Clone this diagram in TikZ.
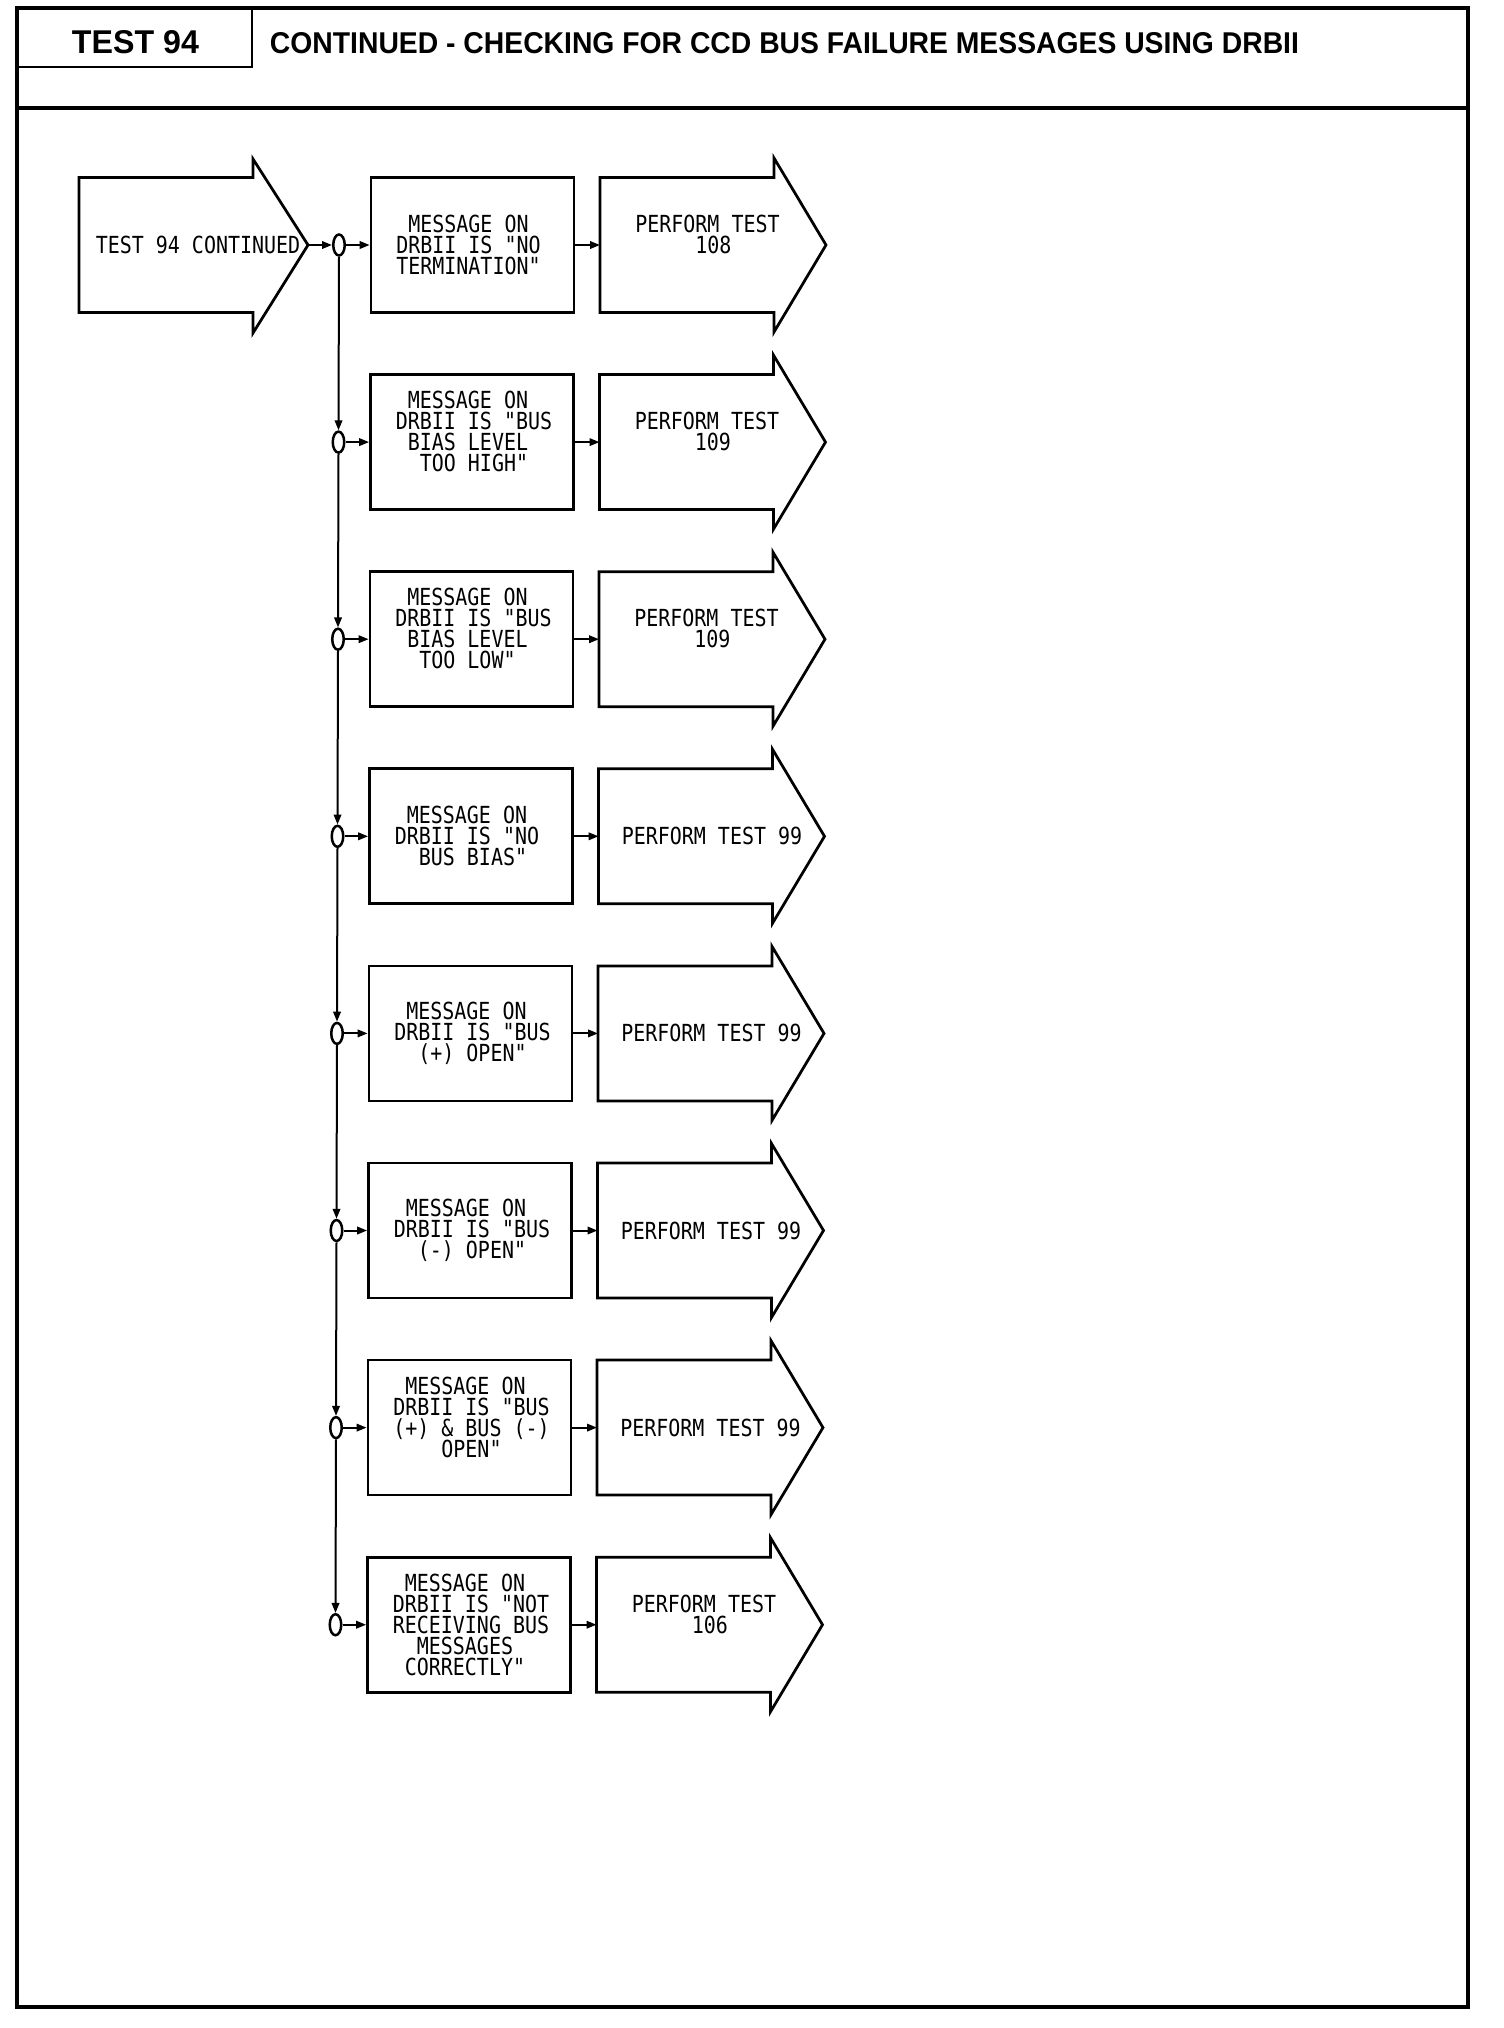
\documentclass[tikz,border=0pt]{standalone}
\usepackage{fontspec}
\usepackage{graphicx}
\usetikzlibrary{shapes.geometric,arrows.meta}
\setmainfont{Liberation Sans}
\newfontfamily\plotfont{DejaVu Sans Mono}[FakeStretch=0.85]
\newcommand\ph[1]{\hphantom{#1}}
\tikzset{
  frameline/.style={line width=1.6pt},
  boxline/.style={line width=1.1pt},
  conn/.style={line width=0.8pt},
  tip/.style={-{Triangle[length=4pt,width=3pt]}},
  msgbox/.style={draw,boxline,rectangle,minimum width=81.2pt,minimum height=54pt,inner sep=0pt},
  oval/.style={draw,line width=1pt,ellipse,minimum width=4.6pt,minimum height=8.4pt,inner sep=0pt},
  ptext/.style={font=\plotfont\fontsize{9.4}{8.36}\selectfont,align=left,inner sep=0pt,anchor=west},
}
% #1 index, #2 message lines, #3 message yshift, #4 perform lines, #5 perform yshift
\newcommand\flrow[5]{%
  \pgfmathsetmacro\cy{245+197.1*#1}%
  \pgfmathsetmacro\dx{-0.5*#1}%
  \node[oval] (o#1) at ({339+\dx},\cy) {};
  \node[msgbox] (m#1) at ({472.5+\dx},\cy) {};
  \node[ptext,yshift=#3] (mt#1) at ({474+\dx-6.5*12.03},\cy) {#2};
  \draw[boxline] ({600+\dx},{\cy-67.5}) -- ({774+\dx},{\cy-67.5}) -- ({774+\dx},{\cy-87})
     -- ({826+\dx},\cy) -- ({774+\dx},{\cy+87}) -- ({774+\dx},{\cy+67.5})
     -- ({600+\dx},{\cy+67.5}) -- cycle;
  \coordinate (a#1) at ({600+\dx},\cy);
  \node[ptext,yshift=#5] (at#1) at ({600+\dx+113-7.5*12.03},\cy) {#4};
  \draw[conn,tip] (o#1) -- (m#1);
  \draw[conn,tip] (m#1) -- (a#1);
}
\begin{document}
\begin{tikzpicture}[x=0.4pt,y=-0.4pt]
\useasboundingbox (0,0) rectangle (1504,2028);
% frame and header
\draw[frameline] (17,8) rectangle (1468,2007);
\draw[line width=0.8pt] (252,8) -- (252,67) -- (17,67);
\draw[frameline] (17,108) -- (1468,108);
\node[inner sep=0pt] (t94) at (135.5,42) {\resizebox{50.8pt}{9.2pt}{\bfseries TEST 94}};
\node[inner sep=0pt] (title) at (784.5,43) {\resizebox{411.6pt}{8.4pt}{\bfseries CONTINUED - CHECKING FOR CCD BUS FAILURE MESSAGES USING DRBII}};
% start arrow
\draw[boxline] (79,177.5) -- (253,177.5) -- (253,159) -- (308,245) -- (253,333) -- (253,312.5) -- (79,312.5) -- cycle;
\coordinate (stip) at (308,245);
\node[font=\plotfont\fontsize{9.4}{8.36}\selectfont,inner sep=0pt] (st) at (198,245) {TEST 94 CONTINUED};
% rows
\flrow{0}{\ph{0}MESSAGE ON\\DRBII IS "NO\\TERMINATION"}{0pt}{\ph{0}PERFORM TEST\\\ph{000000}108}{4.18pt}
\flrow{1}{\ph{0}MESSAGE ON\\DRBII IS "BUS\\\ph{0}BIAS LEVEL\\\ph{00}TOO HIGH"}{4.18pt}{\ph{0}PERFORM TEST\\\ph{000000}109}{4.18pt}
\flrow{2}{\ph{0}MESSAGE ON\\DRBII IS "BUS\\\ph{0}BIAS LEVEL\\\ph{00}TOO LOW"}{4.18pt}{\ph{0}PERFORM TEST\\\ph{000000}109}{4.18pt}
\flrow{3}{\ph{0}MESSAGE ON\\DRBII IS "NO\\\ph{00}BUS BIAS"}{0pt}{PERFORM TEST 99}{0pt}
\flrow{4}{\ph{0}MESSAGE ON\\DRBII IS "BUS\\\ph{00}(+) OPEN"}{0pt}{PERFORM TEST 99}{0pt}
\flrow{5}{\ph{0}MESSAGE ON\\DRBII IS "BUS\\\ph{00}(-) OPEN"}{0pt}{PERFORM TEST 99}{0pt}
\flrow{6}{\ph{0}MESSAGE ON\\DRBII IS "BUS\\(+) \& BUS (-)\\\ph{0000}OPEN"}{4.18pt}{PERFORM TEST 99}{0pt}
\flrow{7}{\ph{0}MESSAGE ON\\DRBII IS "NOT\\RECEIVING BUS\\\ph{00}MESSAGES\\\ph{0}CORRECTLY"}{0pt}{\ph{0}PERFORM TEST\\\ph{000000}106}{4.18pt}
% connectors
\draw[conn,tip] (stip) -- (o0);
\foreach \i [evaluate=\i as \j using int(\i+1)] in {0,...,6} {
  \draw[conn,tip] (o\i.south) -- (o\j.north);
}
\end{tikzpicture}
\end{document}
